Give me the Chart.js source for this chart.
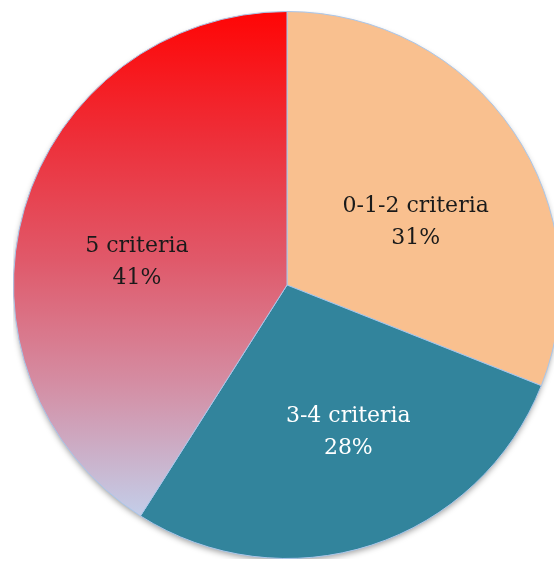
<!DOCTYPE html>
<html>
<head>
<meta charset="utf-8">
<script src="https://cdn.jsdelivr.net/npm/chart.js@4.4.0/dist/chart.umd.min.js"></script>
<style>
  html, body { margin: 0; padding: 0; background: #ffffff; overflow: hidden; }
  body { width: 554px; height: 561px; position: relative; }
  #wrap { position: absolute; left: 13px; top: 11px; width: 548px; height: 548px; }
</style>
</head>
<body>
<div id="wrap"><canvas id="pieChart"></canvas></div>
<script>
const categories = ['0-1-2 criteria', '3-4 criteria', '5 criteria'];
const shares = [31, 28, 41];
const labelColors = ['#1a1a1a', '#ffffff', '#1a1a1a'];
// small hand tweaks so the text sits where PowerPoint put it
const labelNudge = [[2, 23], [14, 2], [-3, 20]];

const PEACH = '#f9c08f';
const TEAL = '#32849c';

// flat fills for the first two slices, vertical red -> lavender for the last
function sliceFill(context) {
  if (context.dataIndex === 0) return PEACH;
  if (context.dataIndex === 1) return TEAL;
  const chart = context.chart;
  const area = chart.chartArea;
  if (!area) return '#e05a6a';
  const cy = (area.top + area.bottom) / 2;
  const r = Math.min(area.right - area.left, area.bottom - area.top) / 2;
  const g = chart.ctx.createLinearGradient(0, cy - r, 0, cy + r * 0.82);
  g.addColorStop(0, '#ff0505');
  g.addColorStop(0.25, '#ee2e38');
  g.addColorStop(0.5, '#e0596a');
  g.addColorStop(0.75, '#d48ea4');
  g.addColorStop(1, '#c4cbe6');
  return g;
}

// soft shadow under the whole pie
const pieShadow = {
  id: 'pieShadow',
  beforeDatasetsDraw(chart) {
    const arc = chart.getDatasetMeta(0).data[0];
    if (!arc) return;
    const ctx = chart.ctx;
    ctx.save();
    ctx.shadowColor = 'rgba(0,0,0,0.4)';
    ctx.shadowBlur = 6;
    ctx.shadowOffsetX = 0;
    ctx.shadowOffsetY = 3;
    ctx.fillStyle = '#ffffff';
    ctx.beginPath();
    ctx.arc(arc.x, arc.y, arc.outerRadius - 1, 0, Math.PI * 2);
    ctx.fill();
    ctx.restore();
  }
};

// two-line labels inside each slice
const sliceLabels = {
  id: 'sliceLabels',
  afterDatasetsDraw(chart) {
    const ctx = chart.ctx;
    const meta = chart.getDatasetMeta(0);
    const total = shares.reduce((a, b) => a + b, 0);
    ctx.save();
    ctx.font = '22px "DejaVu Serif", serif';
    ctx.textAlign = 'center';
    ctx.textBaseline = 'middle';
    meta.data.forEach((arc, i) => {
      const mid = (arc.startAngle + arc.endAngle) / 2;
      const r = arc.outerRadius * 0.56;
      const x = arc.x + Math.cos(mid) * r + labelNudge[i][0];
      const y = arc.y + Math.sin(mid) * r + labelNudge[i][1];
      const pct = Math.round(shares[i] / total * 100) + '%';
      ctx.fillStyle = labelColors[i];
      ctx.fillText(categories[i], x, y - 16);
      ctx.fillText(pct, x, y + 16);
    });
    ctx.restore();
  }
};

new Chart(document.getElementById('pieChart'), {
  type: 'pie',
  data: {
    labels: categories,
    datasets: [{
      data: shares,
      backgroundColor: sliceFill,
      borderColor: '#a9c6ea',
      borderWidth: 1
    }]
  },
  options: {
    responsive: true,
    maintainAspectRatio: false,
    animation: false,
    layout: { padding: 0 },
    plugins: {
      legend: { display: false },
      tooltip: { enabled: false }
    }
  },
  plugins: [pieShadow, sliceLabels]
});
</script>
</body>
</html>
